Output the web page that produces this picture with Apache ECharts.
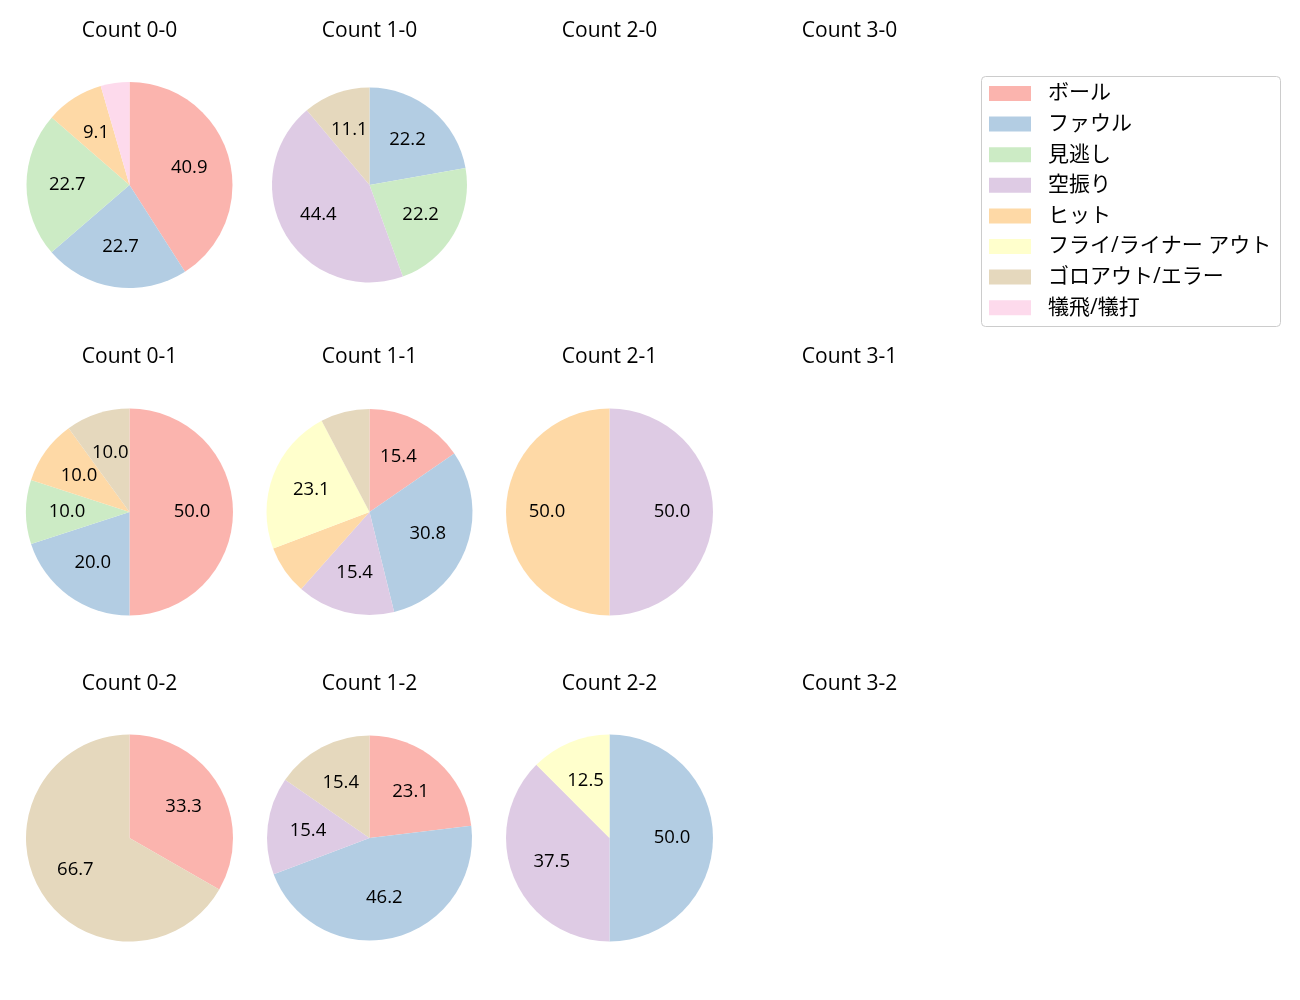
<!DOCTYPE html>
<html><head><meta charset="utf-8">
<script src="https://cdn.jsdelivr.net/npm/echarts@6/dist/echarts.min.js"></script>
<style>html,body{margin:0;padding:0;background:#fff}#c{width:1300px;height:1000px}</style>
</head><body><div id="c"></div>
<script>
const categories = ['ボール','ファウル','見逃し','空振り','ヒット','フライ/ライナー アウト','ゴロアウト/エラー','犠飛/犠打'];
const colors = ['#fbb4ae','#b3cde3','#ccebc5','#decbe4','#fed9a6','#ffffcc','#e5d8bd','#fddaec'];
const titles = ['Count 0-0','Count 1-0','Count 2-0','Count 3-0','Count 0-1','Count 1-1','Count 2-1','Count 3-1','Count 0-2','Count 1-2','Count 2-2','Count 3-2'];
const count00 = [40.9, 22.7, 22.7, 0, 9.1, 0, 0, 4.5];
const count10 = [0, 22.2, 22.2, 44.4, 0, 0, 11.1, 0];
const count20 = [];
const count30 = [];
const count01 = [50.0, 20.0, 10.0, 0, 10.0, 0, 10.0, 0];
const count11 = [15.4, 30.8, 0, 15.4, 7.7, 23.1, 7.7, 0];
const count21 = [0, 0, 0, 50.0, 50.0, 0, 0, 0];
const count31 = [];
const count02 = [33.3, 0, 0, 0, 0, 0, 66.7, 0];
const count12 = [23.1, 46.2, 0, 15.4, 0, 0, 15.4, 0];
const count22 = [0, 50.0, 0, 37.5, 0, 12.5, 0, 0];
const count32 = [];
const allCounts = [count00,count10,count20,count30,count01,count11,count21,count31,count02,count12,count22,count32];

// layout
const colX = [129.5, 369.5, 609.5, 849.5];
const rowY = [185, 512, 838];
const titleY = [31, 357.5, 684];
const radii = [103, 97.5, 103, 103, 103.5, 103, 103.5, 103, 103.5, 102.5, 103.5, 103];
const LATIN = '"Open Sans", "Noto Sans CJK JP", sans-serif';

const series = [];
const graphic = [];
allCounts.forEach((vals, i) => {
  const cx = colX[i % 4], cy = rowY[Math.floor(i / 4)], r = radii[i];
  graphic.push({type:'text', x:cx, y:titleY[Math.floor(i / 4)], style:{text:titles[i], textAlign:'center', textVerticalAlign:'middle', font:'21px ' + LATIN, fill:'#000'}});
  if (!vals.length) return;
  const data = [], ldata = [];
  vals.forEach((v, k) => {
    if (v > 0) {
      data.push({name: categories[k], value: v, itemStyle: {color: colors[k]}});
      ldata.push({name: categories[k] + '\u200b', value: v});
    }
  });
  series.push({type:'pie', center:[cx, cy], radius:[0, r], startAngle:90, clockwise:true, animation:false,
    label:{show:false}, labelLine:{show:false}, itemStyle:{borderWidth:0}, emphasis:{disabled:true}, data});
  series.push({type:'pie', center:[cx, cy], radius:[0.15 * r, r], startAngle:90, clockwise:true, animation:false, silent:true,
    itemStyle:{color:'rgba(0,0,0,0)', borderWidth:0}, labelLine:{show:false}, emphasis:{disabled:true},
    label:{show:true, position:'inside', color:'#000', fontSize:18.5, fontFamily:LATIN, padding:[0,0,2,0],
      formatter: p => p.value >= 8 ? p.value.toFixed(1) : ''},
    data: ldata});
});
graphic.push({type:'rect', shape:{x:981.5, y:76.5, width:299, height:250, r:4}, style:{fill:'#fff', stroke:'#cccccc', lineWidth:1}, z:-1});

const chart = echarts.init(document.getElementById('c'), null, {renderer:'canvas'});
chart.setOption({
  animation:false,
  backgroundColor:'#fff',
  graphic,
  legend:{orient:'vertical', left:989, top:83, padding:0, data:categories, icon:'rect', itemWidth:42, itemHeight:15, itemGap:9.6,
    selectedMode:false, textStyle:{fontSize:21, lineHeight:21, fontFamily:LATIN, color:'#000', padding:[0,0,0,12]}},
  series
});
</script></body></html>
